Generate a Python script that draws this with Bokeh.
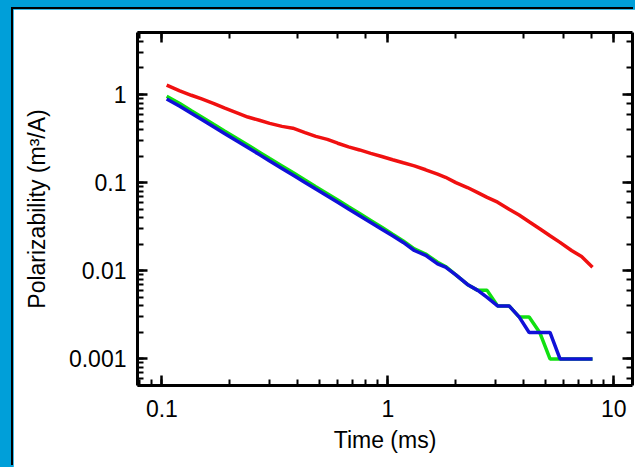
from bokeh.plotting import figure
from bokeh.models import LogAxis, CustomJSTickFormatter, GlobalInlineStyleSheet, Range1d
from bokeh.embed import file_html
from bokeh.resources import INLINE

# Time gates (ms)
time_ms = [0.105, 0.12, 0.135, 0.15, 0.17, 0.19, 0.215, 0.24, 0.27, 0.3,
           0.34, 0.38, 0.43, 0.48, 0.54, 0.6, 0.67, 0.75, 0.84, 0.94,
           1.05, 1.17, 1.31, 1.47, 1.66, 1.8, 2.0, 2.25, 2.5, 2.75,
           3.06, 3.44, 3.81, 4.22, 4.7, 5.22, 5.78, 6.5, 7.2, 8.05]

red = [1.28, 1.10, 0.98, 0.89, 0.79, 0.70, 0.62, 0.555, 0.51, 0.47,
       0.435, 0.415, 0.37, 0.335, 0.31, 0.28, 0.255, 0.235, 0.215, 0.198,
       0.182, 0.168, 0.155, 0.14, 0.125, 0.115, 0.10, 0.088, 0.077, 0.068,
       0.060, 0.050, 0.043, 0.036, 0.030, 0.025, 0.021, 0.017, 0.0145, 0.011]

green = [0.955, 0.79, 0.655, 0.556, 0.456, 0.383, 0.316, 0.267, 0.222, 0.188,
         0.155, 0.130, 0.107, 0.090, 0.075, 0.0635, 0.0533, 0.0446, 0.0373, 0.0312,
         0.026, 0.0218, 0.0177, 0.0155, 0.0125, 0.0112, 0.009, 0.007, 0.006, 0.006,
         0.004, 0.004, 0.003, 0.003, 0.002, 0.001, 0.001, 0.001, 0.001, 0.001]

blue = [0.89, 0.736, 0.612, 0.52, 0.427, 0.359, 0.296, 0.25, 0.208, 0.176,
        0.145, 0.122, 0.1005, 0.0846, 0.0704, 0.0598, 0.0503, 0.0422, 0.0354, 0.0297,
        0.025, 0.021, 0.017, 0.015, 0.012, 0.011, 0.009, 0.007, 0.006, 0.005,
        0.004, 0.004, 0.003, 0.002, 0.002, 0.002, 0.001, 0.001, 0.001, 0.001]

x_label = "Time (ms)"
y_label = "Polarizability (m\u00b3/A)"

FONT = "Liberation Sans"
FS = "23px"

page_css = GlobalInlineStyleSheet(css=(
    "html, body { background-color: #009fd9; overflow: hidden; }"
    "body { margin: 0; padding: 9px 0 0 13px; }"
))

p = figure(frame_width=495, frame_height=353, x_axis_type="log", y_axis_type="log",
           x_range=Range1d(0.078, 12.1), y_range=Range1d(5e-4, 5.05),
           output_backend="svg", toolbar_location=None,
           min_border_left=124, min_border_right=3, min_border_top=23, min_border_bottom=82,
           background_fill_color="white", border_fill_color="white",
           outline_line_color=None)
p.stylesheets = [page_css]
p.styles = {"box-shadow": "-2px -2px 0px 0px black"}

p.grid.visible = False

num_fmt = CustomJSTickFormatter(code="return String(parseFloat(tick.toPrecision(6)));")
blank_fmt = CustomJSTickFormatter(code="return '';")

def style_axis(ax):
    ax.axis_line_width = 3
    ax.axis_line_color = "black"
    ax.major_tick_in = 10
    ax.major_tick_out = 0
    ax.minor_tick_in = 6
    ax.minor_tick_out = 0
    ax.major_tick_line_width = 2.5
    ax.minor_tick_line_width = 2
    ax.major_tick_line_color = "black"
    ax.minor_tick_line_color = "black"
    ax.major_label_text_font = FONT
    ax.major_label_text_font_size = FS
    ax.major_label_text_color = "black"
    ax.axis_label_text_font = FONT
    ax.axis_label_text_font_size = FS
    ax.axis_label_text_font_style = "normal"
    ax.axis_label_text_color = "black"

for ax in p.xaxis + p.yaxis:
    style_axis(ax)

p.xaxis.formatter = num_fmt
p.yaxis.formatter = num_fmt
p.xaxis.axis_label = x_label
p.yaxis.axis_label = y_label
p.xaxis.major_label_standoff = 14
p.yaxis.major_label_standoff = 11
p.xaxis.axis_label_standoff = 7
p.yaxis.axis_label_standoff = 16

top = LogAxis(formatter=blank_fmt, major_label_standoff=0)
right = LogAxis(formatter=blank_fmt, major_label_standoff=0)
style_axis(top)
style_axis(right)
top.major_label_text_font_size = "1px"
right.major_label_text_font_size = "1px"
p.add_layout(top, "above")
p.add_layout(right, "right")

p.line(time_ms, red, line_color="#f01010", line_width=3.5)
p.line(time_ms, green, line_color="#10e010", line_width=3.5)
p.line(time_ms, blue, line_color="#1010d8", line_width=3.5)

open("out.html", "w").write(file_html(p, INLINE))
